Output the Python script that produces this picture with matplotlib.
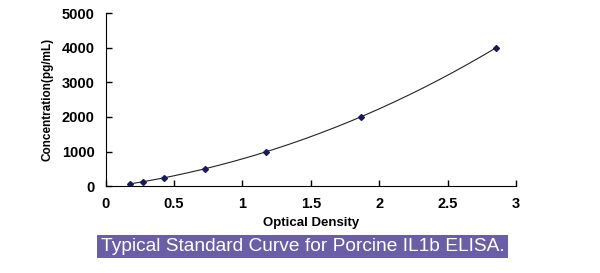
import matplotlib
matplotlib.use("Agg")
import matplotlib.pyplot as plt
import numpy as np

od = [0.175, 0.27, 0.43, 0.73, 1.175, 1.865, 2.855]
conc = [62.5, 125, 250, 500, 1000, 2000, 4000]
xticks = [0, 0.5, 1, 1.5, 2, 2.5, 3]
yticks = [0, 1000, 2000, 3000, 4000, 5000]

plt.rcParams['font.family'] = ['Liberation Sans', 'DejaVu Sans']

fig = plt.figure(figsize=(6, 2.73), dpi=100)
ax = fig.add_axes([0.176, 0.318, 0.684, 0.634])

# trend line, cubic fit through the standards
coef = np.polyfit(od, conc, 3)
xs = np.linspace(min(od), max(od), 200)
ax.plot(xs, np.polyval(coef, xs), color='#222222', lw=0.8)
ax.plot(od, conc, 'D', color='#1a1a5a', ms=3)

ax.set_xlim(0, 3)
ax.set_ylim(0, 5000)
ax.set_xticks(xticks)
ax.set_xticklabels(['0', '0.5', '1', '1.5', '2', '2.5', '3'])
ax.set_yticks(yticks)
ax.spines['top'].set_visible(False)
ax.spines['right'].set_visible(False)
ax.tick_params(direction='in', length=4, width=1, labelsize=10.5)
for lab in ax.get_xticklabels() + ax.get_yticklabels():
    lab.set_fontweight('bold')
ax.tick_params(axis='x', pad=8)
ax.tick_params(axis='y', pad=8)
ax.set_xlabel('Optical Density', fontsize=9.5, fontweight='bold', labelpad=4)
ax.set_ylabel('Concentration(pg/mL)', fontsize=8.5, fontweight='bold', labelpad=6)

fig.text(0.168, 0.097, 'Typical Standard Curve for Porcine IL1b ELISA.', fontsize=13.8,
         color='white', va='center', ha='left',
         bbox=dict(facecolor='#6a5fa6', edgecolor='none', pad=2.5))

fig.savefig('out.png', dpi=100)
